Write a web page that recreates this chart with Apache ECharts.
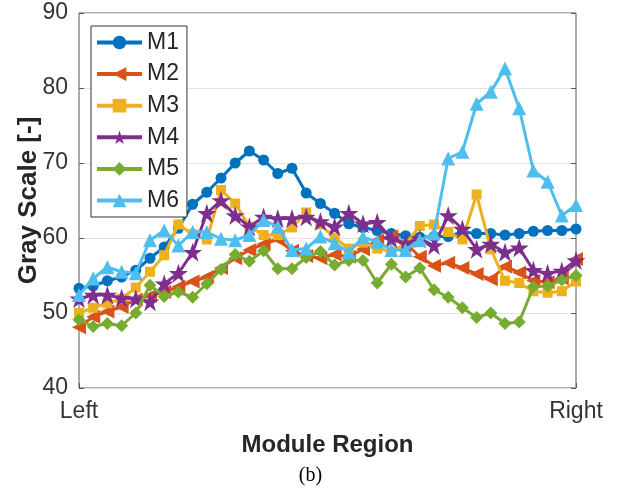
<!DOCTYPE html>
<html>
<head>
<meta charset="utf-8">
<script src="https://cdn.jsdelivr.net/npm/echarts@6/dist/echarts.min.js"></script>
<style>
html,body{margin:0;padding:0;background:#fff;}
#chart{width:621px;height:489px;}
</style>
</head>
<body>
<div id="chart"></div>
<script>
// Data (36 sample positions, Left -> Right)
const seriesNames = ['M1', 'M2', 'M3', 'M4', 'M5', 'M6'];
const xTickLabels = ['Left', 'Right'];
const yTicks = [40, 50, 60, 70, 80, 90];

const M1 = [53.3, 53.6, 54.3, 54.8, 55.7, 57.3, 58.8, 61.3, 64.5, 66.1, 68.0, 70.0, 71.6, 70.4, 68.6, 69.3, 66.0, 64.6, 63.3, 61.9, 61.4, 61.0, 60.6, 60.3, 60.1, 60.2, 60.2, 60.8, 60.6, 60.6, 60.4, 60.6, 60.9, 61.0, 61.0, 61.2];
const M2 = [48.1, 49.5, 50.2, 50.8, 51.8, 52.3, 52.8, 53.5, 54.2, 54.8, 56.0, 57.3, 58.4, 59.2, 59.8, 58.3, 57.6, 57.3, 57.8, 57.5, 58.5, 59.7, 60.2, 59.3, 57.5, 56.3, 56.7, 56.0, 55.2, 54.5, 56.2, 55.4, 54.3, 54.1, 54.6, 57.2];
const M3 = [50.0, 50.7, 51.3, 51.9, 53.4, 55.5, 57.7, 61.8, 60.5, 59.8, 66.4, 64.6, 61.5, 60.4, 60.4, 61.4, 63.4, 61.8, 60.0, 58.6, 59.4, 58.6, 58.2, 59.2, 61.6, 61.8, 60.8, 59.8, 65.8, 58.5, 54.3, 54.0, 52.9, 52.7, 52.9, 54.2];
const M4 = [51.9, 52.4, 52.4, 52.0, 51.9, 51.5, 53.9, 55.3, 58.1, 63.3, 65.0, 63.0, 61.5, 62.8, 62.6, 62.6, 62.8, 62.2, 61.5, 63.3, 61.9, 62.1, 59.9, 59.3, 59.9, 59.0, 63.0, 61.2, 58.5, 59.2, 58.1, 58.7, 55.7, 55.3, 55.6, 57.0];
const M5 = [49.1, 48.2, 48.6, 48.3, 50.0, 53.7, 52.2, 52.8, 52.1, 53.9, 55.8, 57.8, 56.9, 58.3, 55.9, 55.9, 57.4, 58.2, 56.4, 57.0, 57.0, 54.0, 56.5, 54.8, 56.0, 53.1, 52.1, 50.7, 49.4, 50.0, 48.6, 48.8, 53.5, 53.6, 54.4, 55.0];
const M6 = [52.4, 54.6, 56.1, 55.5, 55.3, 59.7, 61.0, 59.0, 60.8, 60.8, 59.9, 59.7, 60.4, 62.4, 61.5, 58.4, 58.6, 60.2, 59.3, 58.1, 60.1, 59.5, 58.4, 58.4, 59.7, 60.6, 70.6, 71.5, 77.9, 79.5, 82.6, 77.3, 69.0, 67.5, 63.0, 64.4];

const allSeries = [M1, M2, M3, M4, M5, M6];
const colors = ['#0072BD', '#D95319', '#EDB120', '#7E2F8E', '#77AC30', '#4DBEEE'];
const starPath = 'path://M50,0 L61.8,35.1 L98.9,35.1 L68.9,56.8 L80.3,91.9 L50,70.2 L19.7,91.9 L31.1,56.8 L1.1,35.1 L38.2,35.1 Z';
const symbols = ['circle', 'triangle', 'rect', starPath, 'diamond', 'triangle'];
const symbolSizes = [11, 14, 10, 19, 13, 14];
const symbolRotates = [0, 90, 0, 0, 0, 0];

const nPts = M1.length;
const xMax = nPts - 1;
const axisColor = '#262626';
const font = 'Liberation Sans, Arial, sans-serif';

const chart = echarts.init(document.getElementById('chart'), null, {renderer: 'canvas'});

const series = allSeries.map((arr, k) => ({
  name: seriesNames[k],
  type: 'line',
  data: arr.map((v, i) => [i, v]),
  symbol: symbols[k],
  symbolSize: symbolSizes[k],
  symbolRotate: symbolRotates[k],
  showAllSymbol: true,
  color: colors[k],
  lineStyle: {width: 3, color: colors[k]},
  itemStyle: {color: colors[k], borderWidth: 0},
  animation: false,
  z: 2 + k
}));

chart.setOption({
  animation: false,
  backgroundColor: '#fff',
  grid: {left: 79, top: 13, width: 497, height: 375, show: true, borderColor: '#595959', borderWidth: 1, backgroundColor: 'transparent'},
  legend: {
    data: seriesNames,
    orient: 'vertical',
    left: 91,
    top: 26,
    itemWidth: 45,
    itemHeight: 17,
    itemGap: 8.6,
    padding: [5, 8, 5, 4],
    borderColor: '#333',
    borderWidth: 1,
    backgroundColor: '#fff',
    lineStyle: {width: 4},
    textStyle: {fontSize: 23, color: axisColor, fontFamily: font},
    z: 20
  },
  xAxis: {
    type: 'value',
    min: 0,
    max: xMax,
    interval: xMax,
    name: 'Module Region',
    nameLocation: 'middle',
    nameGap: 45,
    nameTextStyle: {fontSize: 24, fontWeight: 'bold', color: axisColor, fontFamily: font},
    axisLine: {show: false},
    axisTick: {show: true, inside: true, length: 5, lineStyle: {color: '#595959'}},
    splitLine: {show: false},
    axisLabel: {
      fontSize: 23, color: '#333', fontFamily: font, margin: 12,
      formatter: v => (v === 0 ? xTickLabels[0] : (v === xMax ? xTickLabels[1] : ''))
    }
  },
  yAxis: [{
    type: 'value',
    min: yTicks[0],
    max: yTicks[yTicks.length - 1],
    interval: 10,
    name: 'Gray Scale [-]',
    nameLocation: 'middle',
    nameGap: 37,
    nameMoveOverlap: false,
    nameTextStyle: {fontSize: 26, fontWeight: 'bold', color: axisColor, fontFamily: font},
    axisLine: {show: false},
    axisTick: {show: true, inside: true, length: 5, lineStyle: {color: '#595959'}},
    splitLine: {show: true, lineStyle: {color: '#e3e3e3', width: 1}},
    axisLabel: {fontSize: 23, color: '#333', fontFamily: font, margin: 11}
  }, {
    type: 'value',
    position: 'right',
    min: yTicks[0],
    max: yTicks[yTicks.length - 1],
    interval: 10,
    axisLine: {show: false},
    axisTick: {show: true, inside: true, length: 5, lineStyle: {color: '#595959'}},
    splitLine: {show: false},
    axisLabel: {show: false}
  }],
  graphic: [{
    type: 'text',
    left: 'center',
    top: 466,
    style: {text: '(b)', font: '20px "Liberation Serif", "Times New Roman", serif', fill: '#000'}
  }],
  series: series
});
</script>
</body>
</html>
